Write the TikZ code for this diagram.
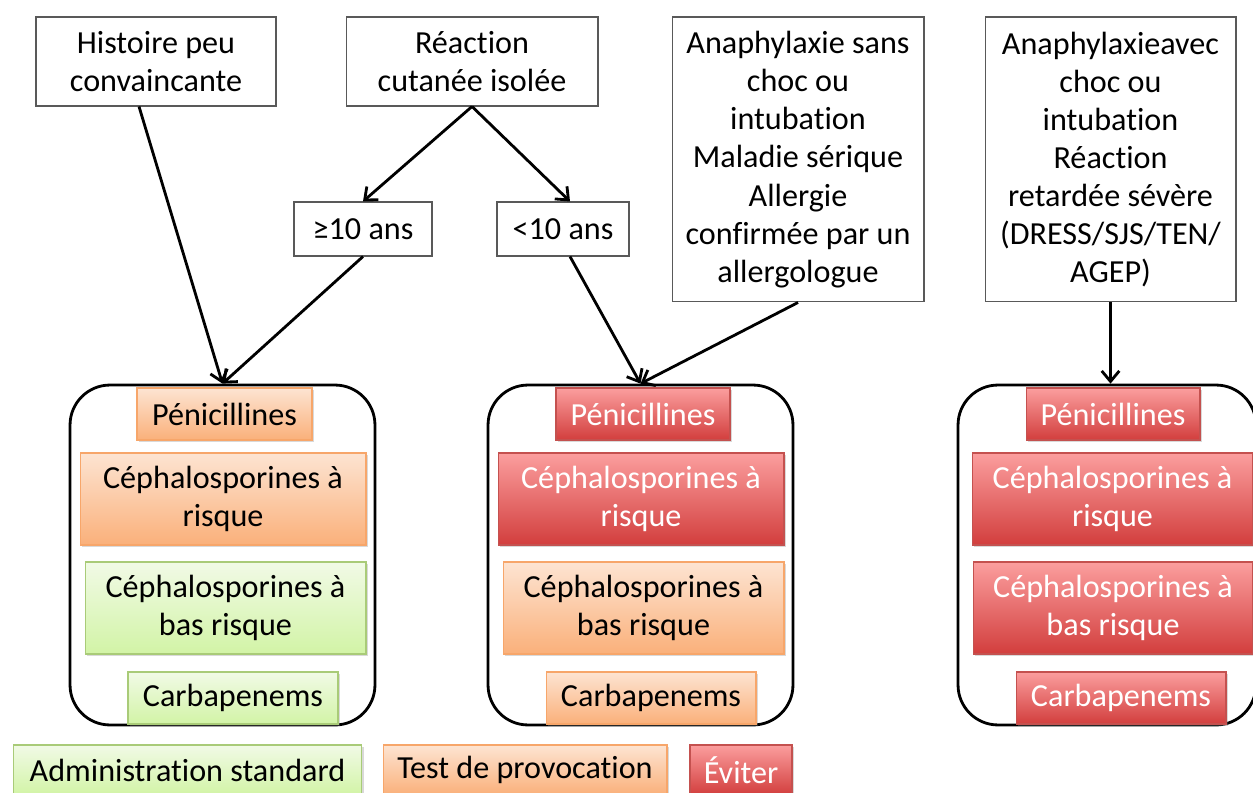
\documentclass[tikz,border=0pt]{standalone}
\usepackage{fontspec}
\setmainfont[Ligatures={NoCommon}]{Carlito}
\usetikzlibrary{shadows,arrows.meta}
\definecolor{orangetop}{HTML}{FDE4D2}
\definecolor{orangebot}{HTML}{FAB07A}
\definecolor{orangeline}{HTML}{F7A66A}
\definecolor{greentop}{HTML}{F1FAE6}
\definecolor{greenbot}{HTML}{D2F4A6}
\definecolor{greenline}{HTML}{A9CB78}
\definecolor{redtop}{HTML}{FB9E9E}
\definecolor{redbot}{HTML}{D23E3D}
\definecolor{redline}{HTML}{C4514F}

\begin{document}
\begin{tikzpicture}[x=0.02cm, y=-0.02cm,
    every node/.style={font=\fontsize{18.3}{21.7}\selectfont, align=center, inner sep=0pt},
    plainnode/.style={draw=black!65, fill=white, line width=0.6pt},
    groupnode/.style={draw=black, line width=1.6pt, rounded corners=0.8cm},
    colnode/.style={line width=0.6pt, drop shadow={opacity=0.3, shadow xshift=1pt, shadow yshift=-1.2pt}},
    greennode/.style={colnode, draw=greenline, top color=greentop, bottom color=greenbot},
    orangenode/.style={colnode, draw=orangeline, top color=orangetop, bottom color=orangebot},
    rednode/.style={colnode, draw=redline, top color=redtop, bottom color=redbot, text=white},
    flow/.style={-{Straight Barb[length=6pt,width=10pt]}, line width=1.6pt}
    ]
    \useasboundingbox (0,0) rectangle (1253,793);

    % questions
    \node [plainnode, minimum width=4.8cm, minimum height=1.78cm] (hist) at (156,61.5) {Histoire peu\\convaincante};
    \node [plainnode, minimum width=5.04cm, minimum height=1.78cm] (react) at (472,61.5) {Réaction\\cutanée isolée};
    \node [plainnode, minimum width=5.04cm, minimum height=5.7cm] (ana1) at (798,159.5) {Anaphylaxie sans\\choc ou\\intubation\\Maladie sérique\\Allergie\\confirmée par un\\allergologue};
    \node [plainnode, minimum width=5.02cm, minimum height=5.7cm] (ana2) at (1110.5,159.5) {Anaphylaxieavec\\choc ou\\intubation\\Réaction\\retardée sévère\\(DRESS/SJS/TEN/\\AGEP)};
    \node [plainnode, minimum width=2.76cm, minimum height=1.08cm] (ge10) at (363,229) {≥10 ans};
    \node [plainnode, minimum width=2.64cm, minimum height=1.08cm] (lt10) at (563,229) {<10 ans};

    % groups
    \node [groupnode, minimum width=6.1cm, minimum height=6.8cm] (g1) at (222.5,555) {};
    \node [groupnode, minimum width=6.1cm, minimum height=6.8cm] (g2) at (640.5,555) {};
    \node [groupnode, minimum width=5.96cm, minimum height=6.8cm] (g3) at (1107,555) {};

    \node [orangenode, minimum width=3.5cm, minimum height=1.04cm] (p1) at (224.5,414) {Pénicillines};
    \node [orangenode, minimum width=5.72cm, minimum height=1.84cm] (cr1) at (223,499) {Céphalosporines à\\risque};
    \node [greennode, minimum width=5.62cm, minimum height=1.84cm] (cb1) at (225.5,608) {Céphalosporines à\\bas risque};
    \node [greennode, minimum width=4.2cm, minimum height=1.04cm] (c1) at (233,698) {Carbapenems};

    \node [rednode, minimum width=3.48cm, minimum height=1.04cm] (p2) at (643,414) {Pénicillines};
    \node [rednode, minimum width=5.72cm, minimum height=1.84cm] (cr2) at (641,499) {Céphalosporines à\\risque};
    \node [orangenode, minimum width=5.62cm, minimum height=1.84cm] (cb2) at (643.5,608) {Céphalosporines à\\bas risque};
    \node [orangenode, minimum width=4.2cm, minimum height=1.04cm] (c2) at (651,698) {Carbapenems};

    \node [rednode, minimum width=3.48cm, minimum height=1.04cm] (p3) at (1113,414) {Pénicillines};
    \node [rednode, minimum width=5.62cm, minimum height=1.84cm] (cr3) at (1112.5,499) {Céphalosporines à\\risque};
    \node [rednode, minimum width=5.6cm, minimum height=1.84cm] (cb3) at (1113,608) {Céphalosporines à\\bas risque};
    \node [rednode, minimum width=4.2cm, minimum height=1.04cm] (c3) at (1121,698) {Carbapenems};

    % legend
    \node [greennode, minimum width=6.98cm, minimum height=1.0cm] (lstd) at (187.5,770) {Administration standard};
    \node [orangenode, minimum width=5.68cm, minimum height=1.0cm] (ltest) at (525,770) {Test de provocation};
    \node [rednode, minimum width=2.04cm, minimum height=1.0cm] (lavoid) at (741,770) {Éviter};

    % arrows
    \draw [flow] ([xshift=-0.34cm]hist.south) -- (g1.north);
    \draw [flow] (react.south) -- (ge10.north);
    \draw [flow] (react.south) -- ([xshift=0.14cm]lt10.north);
    \draw [flow] (ge10.south) -- (g1.north);
    \draw [flow] ([xshift=0.14cm]lt10.south) -- (g2.north);
    \draw [flow] (ana1.south) -- (g2.north);
    \draw [flow] (ana2.south) -- (ana2.south |- g3.north);
\end{tikzpicture}
\end{document}
